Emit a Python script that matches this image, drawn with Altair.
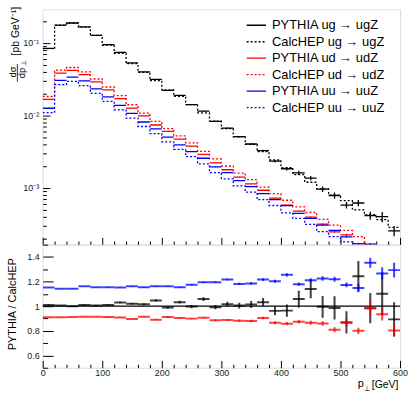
import altair as alt
import pandas as pd

# ---------------- data ----------------
BIN_LO = [0, 20, 40, 60, 80, 100, 120, 140, 160, 180, 200, 220, 240, 260, 280,
          300, 320, 340, 360, 380, 400, 420, 440, 460, 480, 500, 520, 540, 560, 580]
BIN_HI = [20, 40, 60, 80, 100, 120, 140, 160, 180, 200, 220, 240, 260, 280, 300,
          320, 340, 360, 380, 400, 420, 440, 460, 480, 500, 520, 540, 560, 580, 600]

LABELS = ["PYTHIA ug \u2192 ugZ", "CalcHEP ug \u2192 ugZ",
          "PYTHIA ud \u2192 udZ", "CalcHEP ud \u2192 udZ",
          "PYTHIA uu \u2192 uuZ", "CalcHEP uu \u2192 uuZ"]
COLORS = ["#000000", "#000000", "#ff0000", "#ff0000", "#0000ff", "#0000ff"]
PROCS = ["ug", "ud", "uu"]
PROC_COLORS = ["#000000", "#ff0000", "#0000ff"]

# CalcHEP dsigma/dpT [pb/GeV] (dotted histograms)
CALCHEP_UG = [0.083, 0.174, 0.187, 0.164, 0.126, 0.093, 0.0716, 0.0517, 0.039, 0.030,
              0.0224, 0.0183, 0.0141, 0.0108, 0.00835, 0.00659, 0.00506, 0.00398, 0.00316, 0.00243,
              0.00191, 0.00153, 0.0012, 0.00097, 0.0008, 0.00067, 0.0005, 0.000425, 0.000366, 0.000287]
CALCHEP_UD = [0.0182, 0.042, 0.0456, 0.0398, 0.0317, 0.0246, 0.01875, 0.0140, 0.01075, 0.00828,
              0.00659, 0.00522, 0.00419, 0.0032, 0.00251, 0.00201, 0.0016, 0.0013, 0.00103, 0.000836,
              0.000678, 0.000551, 0.00046, 0.00037, 0.000309, 0.000261, 0.000214, 0.000168, 0.000138, 0.00011]
CALCHEP_UU = [0.01089, 0.0265, 0.0294, 0.0257, 0.0201, 0.0156, 0.0119, 0.00916, 0.00703, 0.0056,
              0.00431, 0.0034, 0.0027, 0.00215, 0.00163, 0.00134, 0.00107, 0.00088, 0.00069, 0.000574,
              0.000456, 0.000381, 0.000316, 0.000251, 0.000214, 0.000181, 0.000148, 0.000125, 0.000105, 0.00009]

# PYTHIA / CalcHEP ratio and its uncertainty
RATIO_UG = [1.01, 1.005, 1.0, 1.01, 1.005, 1.01, 1.03, 1.02, 1.015, 1.047,
            0.989, 1.033, 0.997, 1.058, 0.992, 1.016, 1.005, 1.014, 1.033, 0.962,
            0.964, 1.058, 1.14, 0.995, 0.986, 0.868, 1.244, 0.984, 1.101, 0.893]
RATIO_UD = [0.91, 0.91, 0.912, 0.915, 0.915, 0.912, 0.908, 0.896, 0.915, 0.89,
            0.912, 0.904, 0.899, 0.907, 0.885, 0.888, 0.882, 0.879, 0.904, 0.866,
            0.858, 0.874, 0.866, 0.86, 0.808, 0.868, 0.80, 0.984, 0.934, 0.803]
RATIO_UU = [1.151, 1.142, 1.142, 1.162, 1.153, 1.153, 1.151, 1.162, 1.153, 1.162,
            1.162, 1.153, 1.175, 1.195, 1.195, 1.216, 1.181, 1.184, 1.216, 1.203,
            1.255, 1.178, 1.211, 1.225, 1.219, 1.173, 1.148, 1.353, 1.266, 1.293]
ERR_UG = [0.004, 0.003, 0.003, 0.004, 0.004, 0.005, 0.006, 0.007, 0.008, 0.009,
          0.010, 0.012, 0.013, 0.015, 0.017, 0.020, 0.024, 0.028, 0.033, 0.036,
          0.050, 0.068, 0.075, 0.088, 0.095, 0.090, 0.123, 0.123, 0.175, 0.140]
ERR_UD = [0.002, 0.002, 0.002, 0.002, 0.002, 0.003, 0.003, 0.003, 0.004, 0.004,
          0.005, 0.005, 0.006, 0.006, 0.007, 0.008, 0.009, 0.010, 0.011, 0.012,
          0.013, 0.014, 0.016, 0.018, 0.020, 0.030, 0.025, 0.055, 0.050, 0.050]
ERR_UU = [0.002, 0.002, 0.002, 0.002, 0.002, 0.003, 0.003, 0.003, 0.004, 0.004,
          0.005, 0.005, 0.006, 0.006, 0.007, 0.008, 0.009, 0.010, 0.011, 0.012,
          0.013, 0.014, 0.016, 0.018, 0.020, 0.020, 0.035, 0.040, 0.050, 0.060]

X_MAJOR = [0, 100, 200, 300, 400, 500, 600]
X_MINOR = [20, 40, 60, 80, 120, 140, 160, 180, 220, 240, 260, 280, 320, 340, 360, 380,
           420, 440, 460, 480, 520, 540, 560, 580]
Y_MAJOR_TOP = [0.1, 0.01, 0.001]
Y_MINOR_TOP = [0.0002, 0.0003, 0.0004, 0.0005, 0.0006, 0.0007, 0.0008, 0.0009,
               0.002, 0.003, 0.004, 0.005, 0.006, 0.007, 0.008, 0.009,
               0.02, 0.03, 0.04, 0.05, 0.06, 0.07, 0.08, 0.09, 0.2]
Y_MAJOR_BOT = [0.6, 0.8, 1.0, 1.2, 1.4]
Y_MINOR_BOT = [0.5, 0.7, 0.9, 1.1, 1.3, 1.5]

# ---------------- tables ----------------
sets = [(LABELS[0], LABELS[1], CALCHEP_UG, RATIO_UG, ERR_UG, PROCS[0]),
        (LABELS[2], LABELS[3], CALCHEP_UD, RATIO_UD, ERR_UD, PROCS[1]),
        (LABELS[4], LABELS[5], CALCHEP_UU, RATIO_UU, ERR_UU, PROCS[2])]

c_rows, p_rows, r_rows = [], [], []
for plab, clab, cv, rv, ev, proc in sets:
    for lo, v in zip(BIN_LO, cv):
        c_rows.append({"series": clab, "x": lo, "y": v})
    c_rows.append({"series": clab, "x": BIN_HI[-1], "y": cv[-1]})
    for lo, hi, c, r, e in zip(BIN_LO, BIN_HI, cv, rv, ev):
        v = c * r
        de = c * e
        p_rows.append({"series": plab, "lo": lo, "hi": hi, "mid": (lo + hi) / 2,
                       "v": v, "vlo": v - de, "vhi": v + de})
        r_rows.append({"proc": proc, "lo": lo, "hi": hi, "mid": (lo + hi) / 2,
                       "r": r, "rlo": r - e, "rhi": r + e})
calchep_df = pd.DataFrame(c_rows)
pythia_df = pd.DataFrame(p_rows)
ratio_df = pd.DataFrame(r_rows)
one_df = pd.DataFrame({"one": [1.0]})
dummy = pd.DataFrame({"a": [0]})

# ---------------- scales / axes ----------------
W, H1, H2 = 360, 237, 124
FONT = "Liberation Sans"
xs = alt.Scale(domain=[0, 600], nice=False, zero=False)
ys_top = alt.Scale(type="log", domain=[1.66e-4, 0.288], nice=False)
ys_bot = alt.Scale(domain=[0.5, 1.5], nice=False, zero=False)
cscale = alt.Scale(domain=LABELS, range=COLORS)
rscale = alt.Scale(domain=PROCS, range=PROC_COLORS)


def inner_axis(values, size, orient, **kw):
    base = dict(values=values, tickSize=size, offset=-size, orient=orient, domain=False,
                grid=False, title=None, tickColor="black", tickWidth=1)
    if "labels" not in kw:
        base["labels"] = False
    base.update(kw)
    return alt.Axis(**base)


# ---------------- top panel ----------------
calchep_lines = alt.Chart(calchep_df).mark_line(
    interpolate="step-after", strokeDash=[2, 2], strokeWidth=1.3, clip=True
).encode(
    x=alt.X("x:Q", scale=xs, axis=inner_axis(X_MINOR, 3.7, "bottom")),
    y=alt.Y("y:Q", scale=ys_top, axis=inner_axis(Y_MINOR_TOP, 3.7, "left")),
    color=alt.Color("series:N", scale=cscale, legend=None),
)

pythia_bars = alt.Chart(pythia_df).mark_rule(strokeWidth=1.3, clip=True).encode(
    x=alt.X("lo:Q", scale=xs, axis=inner_axis(X_MAJOR, 7.3, "bottom")),
    x2="hi:Q",
    y=alt.Y("v:Q", scale=ys_top, axis=inner_axis(
        Y_MAJOR_TOP, 7.3, "left", labels=True, labelPadding=4, labelFontSize=9,
        labelFont=FONT, labelColor="#222",
        labelExpr="datum.value > 0.05 ? '10\u207b\u00b9' : (datum.value > 0.005 ? '10\u207b\u00b2' : '10\u207b\u00b3')")),
    color=alt.Color("series:N", scale=cscale, legend=None),
)

pythia_err = alt.Chart(pythia_df).mark_rule(strokeWidth=1.3, clip=True).encode(
    x=alt.X("mid:Q", scale=xs, axis=None),
    y=alt.Y("vlo:Q", scale=ys_top, axis=None),
    y2="vhi:Q",
    color=alt.Color("series:N", scale=cscale, legend=None),
)


def txt(text, x, y, size, angle=0, align="center", baseline="middle"):
    kw = dict(text=text, fontSize=size, font=FONT, color="black", align=align, baseline=baseline)
    if angle:
        kw["angle"] = angle
    return alt.Chart(dummy).mark_text(**kw).encode(x=alt.value(x), y=alt.value(y))


top_titles = [
    txt("[pb GeV\u207b\u00b9]", -26.5, 22, 10.5, angle=270),
    txt("d\u03c3", -30.0, 63, 9.5, angle=270),
    txt("dp", -21.0, 64, 9.5, angle=270),
    txt("\u22a5", -18.5, 54, 7, angle=270),
    alt.Chart(dummy).mark_rule(color="black", strokeWidth=0.8).encode(
        x=alt.value(-25.5), x2=alt.value(-25.5), y=alt.value(55), y2=alt.value(73)),
]

legend_layers = []
for i, (lab, col) in enumerate(zip(LABELS, COLORS)):
    yy = 16 + 16.6 * i
    dash = [1, 0] if i % 2 == 0 else [2, 2]
    legend_layers.append(
        alt.Chart(dummy).mark_rule(color=col, strokeWidth=1.3, strokeDash=dash).encode(
            x=alt.value(205.5), x2=alt.value(225), y=alt.value(yy)))
    legend_layers.append(txt(lab, 231, yy, 13, align="left"))

bounds_rule = alt.Chart(dummy).mark_rule(opacity=0, strokeWidth=1).encode(
    x=alt.value(-42.2), x2=alt.value(-42.2), y=alt.value(-7.5), y2=alt.value(-7))

top = alt.layer(calchep_lines, pythia_bars, pythia_err, *top_titles, *legend_layers, bounds_rule
                ).resolve_axis(x="independent", y="independent").properties(width=W, height=H1)

# ---------------- ratio panel ----------------
unity = alt.Chart(one_df).mark_rule(color="black", strokeWidth=1.3).encode(
    x=alt.value(0), x2=alt.value(W), y=alt.Y("one:Q", scale=ys_bot, axis=None))

ratio_h = alt.Chart(ratio_df).mark_rule(strokeWidth=2, opacity=0.75, clip=True).encode(
    x=alt.X("lo:Q", scale=xs, axis=inner_axis(X_MINOR, 3.5, "bottom")),
    x2="hi:Q",
    y=alt.Y("r:Q", scale=ys_bot, axis=inner_axis(Y_MINOR_BOT, 5, "left")),
    color=alt.Color("proc:N", scale=rscale, legend=None),
)
ratio_v = alt.Chart(ratio_df).mark_rule(strokeWidth=2, opacity=0.75, clip=True).encode(
    x=alt.X("mid:Q", scale=xs, axis=inner_axis(
        X_MAJOR, 7.3, "bottom", labels=True, labelPadding=1, labelFontSize=9,
        labelFont=FONT, labelColor="#222", labelFlush=False)),
    y=alt.Y("rlo:Q", scale=ys_bot, axis=inner_axis(
        Y_MAJOR_BOT, 10.5, "left", labels=True, labelPadding=3.5, labelFontSize=9,
        labelFont=FONT, labelColor="#222",
        labelExpr="datum.value == 1 ? '1' : format(datum.value, '.1f')")),
    y2="rhi:Q",
    color=alt.Color("proc:N", scale=rscale, legend=None),
)

bot_titles = [
    txt("PYTHIA / CalcHEP", -29.7, 60, 11, angle=270),
    txt("p", 320.5, 140, 11),
    txt("\u22a5", 326.5, 145.5, 7),
    txt("[GeV]", 331.5, 141.5, 10.5, align="left"),
]

bottom = alt.layer(unity, ratio_h, ratio_v, *bot_titles
                   ).resolve_axis(x="independent", y="independent").properties(width=W, height=H2)

chart = alt.vconcat(top, bottom, spacing=0, bounds="flush").resolve_scale(
    color="independent"
).configure_view(
    stroke="black", strokeWidth=1
).configure(padding=0, background="white")

chart.save("out.html", embed_options={"renderer": "svg", "actions": False})
